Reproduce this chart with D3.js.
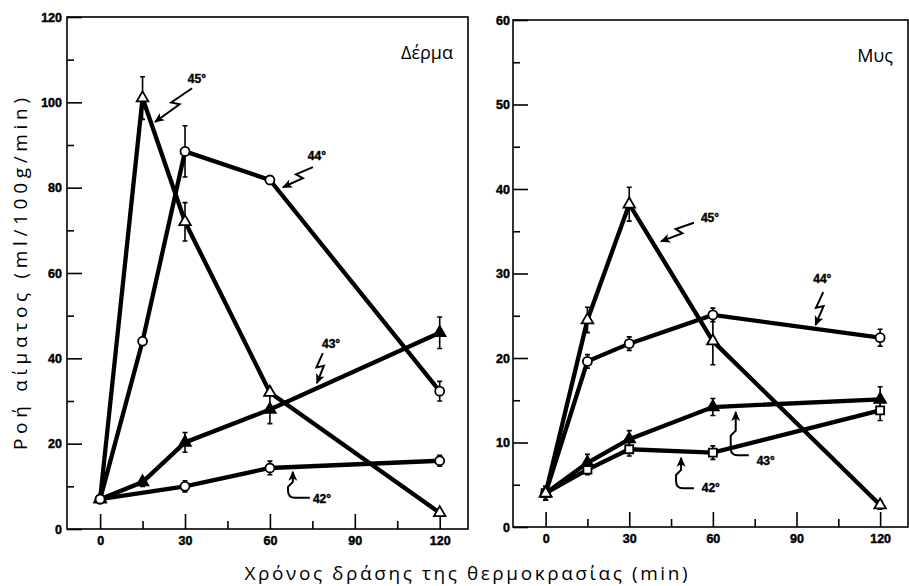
<!DOCTYPE html>
<html>
<head>
<meta charset="utf-8">
<script src="https://cdn.jsdelivr.net/npm/d3@7"></script>
<style>
  html, body { margin: 0; padding: 0; background: #fff; }
  svg { display: block; }
  .tick text { font-family: "Liberation Sans", Arial, sans-serif; font-weight: bold; font-size: 12.5px; fill: #000; stroke: #000; stroke-width: 0.45px; }
  .tick line { stroke: #000; stroke-width: 1.6; }
  .note { font-family: "Liberation Sans", Arial, sans-serif; font-weight: bold; font-size: 12px; stroke: #000; stroke-width: 0.4px; }
  .title { font-family: "Open Sans", "Noto Sans", sans-serif; font-size: 18px; }
</style>
</head>
<body>
<svg id="chart" width="909" height="586"></svg>
<script>
// χρόνος (min)
const minutes = [0, 15, 30, 60, 120]
const xTicks = [0, 30, 60, 90, 120]
const xMinorTicks = [15, 45, 75, 105]

// Δέρμα (ml/100g/min)
const skinTicks = [0, 20, 40, 60, 80, 100, 120]
const skinMinorTicks = [10, 30, 50, 70, 90, 110]
const skin45 = [7, 101, 72, 32, 3.8]
const skin45Err = [0.8, 5, 4.5, 0, 0]
const skin44 = [7, 44, 88.5, 81.8, 32.3]
const skin44Err = [0.8, 0, 6, 1, 2.3]
const skin43 = [7, 11, 20.3, 28, 46]
const skin43Err = [0.8, 1, 2.3, 3.3, 3.7]
const skin42 = [7, null, 10, 14.3, 16]
const skin42Err = [0.8, null, 1.3, 1.6, 1.3]

// Μυς (ml/100g/min)
const muscleTicks = [0, 10, 20, 30, 40, 50, 60]
const muscleMinorTicks = [5, 15, 25, 35, 45, 55]
const muscle45 = [4, 24.5, 38.2, 22, 2.6]
const muscle45Err = [0.8, 1.5, 2, 2.8, 0.5]
const muscle44 = [4, 19.6, 21.7, 25.1, 22.4]
const muscle44Err = [0.8, 0.8, 0.8, 0.8, 1]
const muscle43 = [4, 7.6, 10.4, 14.2, 15.1]
const muscle43Err = [0.8, 1, 1, 1, 1.5]
const muscle42 = [4, 6.8, 9.2, 8.8, 13.8]
const muscle42Err = [0.8, 0.6, 0.8, 0.8, 1.2]

// σημειώσεις: θέση ετικέτας, ουρά και μύτη βέλους σε μονάδες δεδομένων
const skinNotes = [
  { text: '45°', at: [31, 104.5], tail: [32.5, 103.3], tip: [19.4, 95.4], kind: 'zig' },
  { text: '44°', at: [73.4, 86.5], tail: [75.2, 84.8], tip: [64.6, 80.1], kind: 'zig' },
  { text: '43°', at: [78.4, 42.4], tail: [78.7, 41.2], tip: [76.6, 34.2], kind: 'zig' },
  { text: '42°', at: [75.2, 6.1], tail: [74.1, 7.3], tip: [68.1, 13.4], corner: 66.4, kind: 'hook' }
]
const muscleNotes = [
  { text: '45°', at: [55.7, 36.1], tail: [53.2, 36], tip: [41.4, 33.8], kind: 'zig' },
  { text: '44°', at: [96, 28.9], tail: [99.6, 27.8], tip: [96.8, 23.9], kind: 'zig' },
  { text: '43°', at: [75.7, 7.3], tail: [72.9, 8.5], tip: [68.2, 13.6], corner: 66.4, kind: 'hook' },
  { text: '42°', at: [56, 4.1], tail: [53.2, 4.6], tip: [48.6, 8.2], corner: 46.8, kind: 'hook' }
]

const panels = [
  {
    title: 'Δέρμα', box: [67, 468, 17, 529], yMax: 120, ticks: skinTicks, minor: skinMinorTicks, pad: 5,
    series: [
      { values: skin42, err: skin42Err, shape: 'circle', fill: '#fff' },
      { values: skin43, err: skin43Err, shape: 'triangle', fill: '#000' },
      { values: skin45, err: skin45Err, shape: 'triangle', fill: '#fff' },
      { values: skin44, err: skin44Err, shape: 'circle', fill: '#fff' }
    ],
    notes: skinNotes
  },
  {
    title: 'Μυς', box: [513, 908, 20, 527], yMax: 60, ticks: muscleTicks, minor: muscleMinorTicks, pad: 3,
    series: [
      { values: muscle42, err: muscle42Err, shape: 'square', fill: '#fff' },
      { values: muscle43, err: muscle43Err, shape: 'triangle', fill: '#000' },
      { values: muscle44, err: muscle44Err, shape: 'circle', fill: '#fff' },
      { values: muscle45, err: muscle45Err, shape: 'triangle', fill: '#fff' }
    ],
    notes: muscleNotes
  }
]

const svg = d3.select('#chart')

svg.append('defs').append('marker')
  .attr('id', 'arrow')
  .attr('viewBox', '0 0 10 10')
  .attr('refX', 9).attr('refY', 5)
  .attr('markerUnits', 'userSpaceOnUse')
  .attr('markerWidth', 10).attr('markerHeight', 10)
  .attr('orient', 'auto')
  .append('path')
  .attr('d', 'M0,0.5 L10,5 L0,9.5 L2.5,5 Z')
  .attr('fill', '#000')

const symbols = {
  triangle: d3.symbol().type(d3.symbolTriangle).size(58),
  square: d3.symbol().type(d3.symbolSquare).size(64)
}

function zigPath (t, p) {
  const dx = p[0] - t[0]
  const dy = p[1] - t[1]
  const len = Math.hypot(dx, dy)
  const ux = dx / len
  const uy = dy / len
  const nx = -uy
  const ny = ux
  const at = (f, o) => [t[0] + ux * len * f + nx * o, t[1] + uy * len * f + ny * o]
  return d3.line()([t, at(0.5, 3.5), at(0.4, -3.5), p])
}

function hookPath (t, p, cx) {
  const ym = (t[1] + p[1]) / 2
  return `M${t[0]},${t[1]} L${cx + 7},${t[1]} Q${cx},${t[1]} ${cx},${t[1] - 7} ` +
    `L${cx},${ym + 2} L${p[0]},${ym - 3} L${p[0]},${p[1]}`
}

for (const panel of panels) {
  const [x0, x1, y0, y1] = panel.box
  const x = d3.scaleLinear().domain([-11.7, 130]).range([x0, x1])
  const y = d3.scaleLinear().domain([0, panel.yMax]).range([y1, y0])
  const g = svg.append('g')

  // πλαίσιο
  g.append('rect')
    .attr('x', x0).attr('y', y0)
    .attr('width', x1 - x0).attr('height', y1 - y0)
    .attr('fill', 'none')
    .attr('stroke', '#000')
    .attr('stroke-width', 1.6)

  // άξονες με εσωτερικές υποδιαιρέσεις
  g.append('g')
    .attr('transform', `translate(0,${y1})`)
    .call(d3.axisBottom(x).tickValues(xTicks).tickSize(-15).tickPadding(7))
    .call(a => a.select('.domain').remove())
  g.append('g')
    .attr('transform', `translate(0,${y1})`)
    .call(d3.axisBottom(x).tickValues(xMinorTicks).tickSize(-8).tickFormat(''))
    .call(a => a.select('.domain').remove())
  g.append('g')
    .attr('transform', `translate(${x0},0)`)
    .call(d3.axisLeft(y).tickValues(panel.ticks).tickSize(-15).tickPadding(panel.pad))
    .call(a => a.select('.domain').remove())
  g.append('g')
    .attr('transform', `translate(${x0},0)`)
    .call(d3.axisLeft(y).tickValues(panel.minor).tickSize(-7).tickFormat(''))
    .call(a => a.select('.domain').remove())
  g.selectAll('.tick line').attr('stroke', '#000').attr('stroke-width', 1.6)
  g.selectAll('.tick text').attr('fill', '#000')

  g.append('text')
    .attr('class', 'title')
    .attr('x', x1 - 15)
    .attr('y', y0 + 42)
    .attr('text-anchor', 'end')
    .text(panel.title)

  const rows = panel.series.map(s => ({
    ...s,
    pts: minutes.map((m, i) => ({ m, v: s.values[i], e: s.err[i] })).filter(d => d.v != null)
  }))

  // γραμμές σφάλματος
  for (const s of rows) {
    g.selectAll(null)
      .data(s.pts.filter(d => d.e > 0))
      .join('path')
      .attr('d', d => {
        const xx = x(d.m)
        const top = y(d.v + d.e)
        const bot = y(d.v - d.e)
        return `M${xx},${top} V${bot} M${xx - 2.5},${top} H${xx + 2.5} M${xx - 2.5},${bot} H${xx + 2.5}`
      })
      .attr('fill', 'none')
      .attr('stroke', '#000')
      .attr('stroke-width', 1.6)
  }

  // καμπύλες
  const line = d3.line().x(d => x(d.m)).y(d => y(d.v))
  for (const s of rows) {
    g.append('path')
      .attr('d', line(s.pts))
      .attr('fill', 'none')
      .attr('stroke', '#000')
      .attr('stroke-width', 4.3)
      .attr('stroke-linejoin', 'miter')
  }

  // σημεία
  for (const s of rows) {
    const sel = g.selectAll(null).data(s.pts)
    if (s.shape === 'circle') {
      sel.join('circle')
        .attr('cx', d => x(d.m))
        .attr('cy', d => y(d.v))
        .attr('r', 4.5)
        .attr('fill', s.fill)
        .attr('stroke', '#000')
        .attr('stroke-width', 1.8)
    } else {
      sel.join('path')
        .attr('transform', d => `translate(${x(d.m)},${y(d.v)})`)
        .attr('d', symbols[s.shape]())
        .attr('fill', s.fill)
        .attr('stroke', '#000')
        .attr('stroke-width', 1.8)
    }
  }

  // σημειώσεις θερμοκρασίας
  for (const n of panel.notes) {
    const t = [x(n.tail[0]), y(n.tail[1])]
    const p = [x(n.tip[0]), y(n.tip[1])]
    g.append('path')
      .attr('d', n.kind === 'zig' ? zigPath(t, p) : hookPath(t, p, x(n.corner)))
      .attr('fill', 'none')
      .attr('stroke', '#000')
      .attr('stroke-width', 2)
      .attr('marker-end', 'url(#arrow)')
    g.append('text')
      .attr('class', 'note')
      .attr('x', x(n.at[0]))
      .attr('y', y(n.at[1]))
      .text(n.text)
  }
}

// τίτλοι αξόνων
svg.append('text')
  .attr('class', 'title')
  .attr('x', 466).attr('y', 580)
  .attr('text-anchor', 'middle')
  .attr('textLength', 443)
  .attr('lengthAdjust', 'spacing')
  .style('font-size', '19px')
  .text('Χρόνος δράσης της θερμοκρασίας (min)')

svg.append('text')
  .attr('class', 'title')
  .attr('transform', 'translate(27,274) rotate(-90)')
  .attr('text-anchor', 'middle')
  .attr('textLength', 352)
  .attr('lengthAdjust', 'spacing')
  .style('font-size', '19px')
  .text('Ροή αίματος (ml/100g/min)')
</script>
</body>
</html>
